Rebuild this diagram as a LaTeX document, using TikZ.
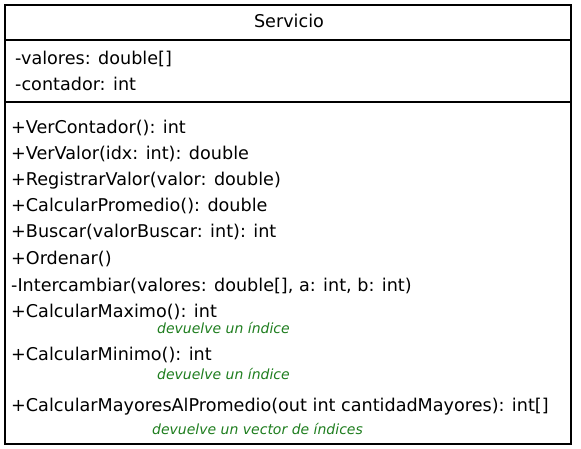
\documentclass[tikz,border=0pt]{standalone}
\usepackage{fontspec}
\setmainfont{DejaVu Sans}
\definecolor{notegreen}{RGB}{30,125,30}

\begin{document}
\begin{tikzpicture}[
    x=1pt, y=-1pt,
    frame/.style  = {draw, line width=1.6pt},
    sep/.style    = {line width=1.6pt},
    member/.style = {anchor=base west, inner sep=0pt, font=\fontsize{17.6}{20}\selectfont},
    note/.style   = {anchor=base west, inner sep=0pt, text=notegreen,
                     font=\fontsize{14}{16}\selectfont\itshape},
]
\useasboundingbox (0,0) rectangle (581,449);

% class box
\draw[frame] (5,5) rectangle (571,444);
\draw[sep] (5,40) -- (571,40);
\draw[sep] (5,102) -- (571,102);

% name
\node[anchor=base, inner sep=0pt, font=\fontsize{17.6}{20}\selectfont] (name) at (289,28) {Servicio};

% attributes
\node[member] (valores)  at (15,65) {-valores: double[]};
\node[member] (contador) at (15,91) {-contador: int};

% operations
\node[member] (verCont)  at (11,134) {+VerContador(): int};
\node[member] (verVal)   at (11,160) {+VerValor(idx: int): double};
\node[member] (registra) at (11,186) {+RegistrarValor(valor: double)};
\node[member] (promedio) at (11,212) {+CalcularPromedio(): double};
\node[member] (buscar)   at (11,238) {+Buscar(valorBuscar: int): int};
\node[member] (ordenar)  at (11,264) {+Ordenar()};
\node[member] (intercam) at (11,291) {-Intercambiar(valores: double[], a: int, b: int)};
\node[member] (maximo)   at (11,317) {+CalcularMaximo(): int};
\node[note]   (maxNote)  at (157,333) {devuelve un índice};
\node[member] (minimo)   at (11,360) {+CalcularMinimo(): int};
\node[note]   (minNote)  at (157,379) {devuelve un índice};
\node[member] (mayores)  at (11,411) {+CalcularMayoresAlPromedio(out int cantidadMayores): int[]};
\node[note]   (mayNote)  at (152,434) {devuelve un vector de índices};

\end{tikzpicture}
\end{document}
